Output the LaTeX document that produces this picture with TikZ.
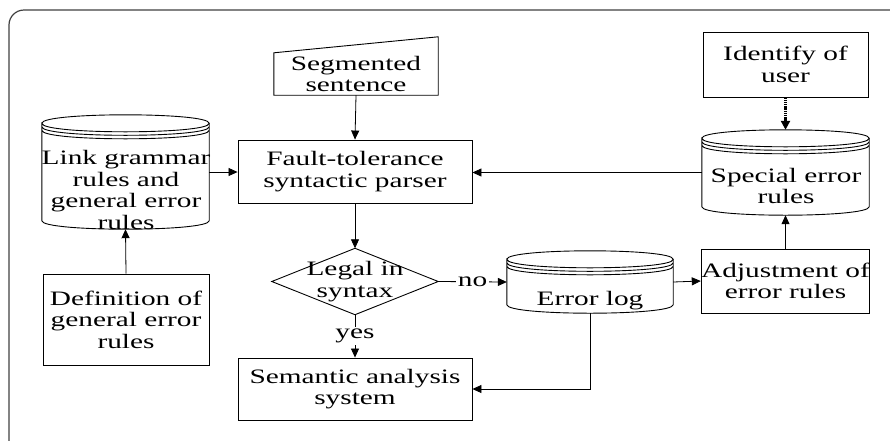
\documentclass[tikz,border=0pt]{standalone}
\usepackage{fontspec}
\setmainfont{Liberation Serif}[FakeStretch=1.43]
\usetikzlibrary{arrows.meta,calc}

\tikzset{
  txt/.style={font=\fontsize{20.5}{21.5}\selectfont, align=center, inner sep=0pt},
  procbox/.style={txt, draw, line width=0.9pt},
  hollow/.style={txt, draw=none},
  outline/.style={draw, line width=0.9pt},
  conn/.style={draw, line width=0.8pt, -{Triangle[length=9pt,width=8pt]}},
  dotconn/.style={draw, line width=2.8pt, dash pattern=on 1.3pt off 0.9pt,
                  -{Triangle[length=9pt,width=9pt]}},
  lbl/.style={txt, fill=white, inner sep=2pt},
  frame/.style={draw=black!75, line width=1.2pt, rounded corners=15pt}
}

% database symbol: cylinder with a triple rim, drawn over the bounds of a node
\newcommand\dbcyl[1]{%
  \draw[outline] let \p1=(#1.north west), \p2=(#1.south east) in
    ({\x1},{\y1-8.5pt}) .. controls ({\x1},{\y1+2.83pt}) and ({\x2},{\y1+2.83pt}) .. ({\x2},{\y1-8.5pt})
      .. controls ({\x2},{\y1-19.83pt}) and ({\x1},{\y1-19.83pt}) .. ({\x1},{\y1-8.5pt})
      -- ({\x1},{\y2+8.5pt})
      .. controls ({\x1},{\y2-2.83pt}) and ({\x2},{\y2-2.83pt}) .. ({\x2},{\y2+8.5pt})
      -- ({\x2},{\y1-8.5pt})
    ({\x1},{\y1-12pt}) .. controls ({\x1},{\y1-23.33pt}) and ({\x2},{\y1-23.33pt}) .. ({\x2},{\y1-12pt})
    ({\x1},{\y1-15.5pt}) .. controls ({\x1},{\y1-26.83pt}) and ({\x2},{\y1-26.83pt}) .. ({\x2},{\y1-15.5pt});
}

\begin{document}
\begin{tikzpicture}[x=1pt,y=-1pt]
\useasboundingbox (0,0) rectangle (890,440);

% outer frame
\begin{scope}
  \clip (0,0) rectangle (890,440);
  \draw[frame] (9,10) rectangle (910,455);
\end{scope}

% manual input
\node[hollow, minimum width=164, minimum height=42] (seg) at (356,74) {Segmented\\sentence};
\draw[outline] (seg.south west) -- (seg.north west) -- ([yshift=16pt]seg.north east)
  -- (seg.south east) -- cycle;

% processes
\node[procbox, minimum width=234, minimum height=63] (parser) at (355,171.5)
  {Fault-tolerance\\syntactic parser};
\node[procbox, minimum width=166, minimum height=91] (defn) at (126,319.5)
  {Definition of\\general error\\rules};
\node[procbox, minimum width=234, minimum height=62] (sem) at (355,389)
  {Semantic analysis\\system};
\node[procbox, minimum width=165, minimum height=64] (adj) at (785.5,281)
  {Adjustment of\\error rules};
\node[procbox, minimum width=165, minimum height=65] (ident) at (785.5,64.5)
  {Identify of\\user};

% decision
\node[hollow, minimum width=166, minimum height=66] (dec) at (355,281.5) {Legal in\\syntax};
\draw[outline] (dec.west) -- (dec.north) -- (dec.east) -- (dec.south) -- cycle;

% stores
\node[hollow, minimum width=167, minimum height=114] (lg) at (125.5,172) {};
\dbcyl{lg}
\node[txt] (lgtext) at (126,190) {Link grammar\\rules and\\general error\\rules};

\node[hollow, minimum width=167, minimum height=85] (se) at (785.5,172.5) {};
\dbcyl{se}
\node[txt] (setext) at (786,186) {Special error\\rules};

\node[hollow, minimum width=166, minimum height=62] (el) at (590,282) {};
\dbcyl{el}
\node[txt, anchor=base] (eltext) at (590,305) {Error log};

% connectors
\draw[conn] (seg.south) -- (parser.north);
\draw[conn] (lg.east) -- (lg.east -| parser.west);
\draw[conn] (defn.north) -- (lg.south);
\draw[conn] (parser.south) -- (dec.north);
\draw[conn] (dec.east) -- node[lbl] {no} (el.west);
\draw[conn] (dec.south) -- node[lbl] {yes} (sem.north);
\draw[conn] (el.south) |- (sem.east);
\draw[conn] (el.east) -- (adj.west);
\draw[conn] (adj.north) -- (se.south);
\draw[conn] (se.west) -- (se.west -| parser.east);
\draw[dotconn] (ident.south) -- (se.north);
\end{tikzpicture}
\end{document}
